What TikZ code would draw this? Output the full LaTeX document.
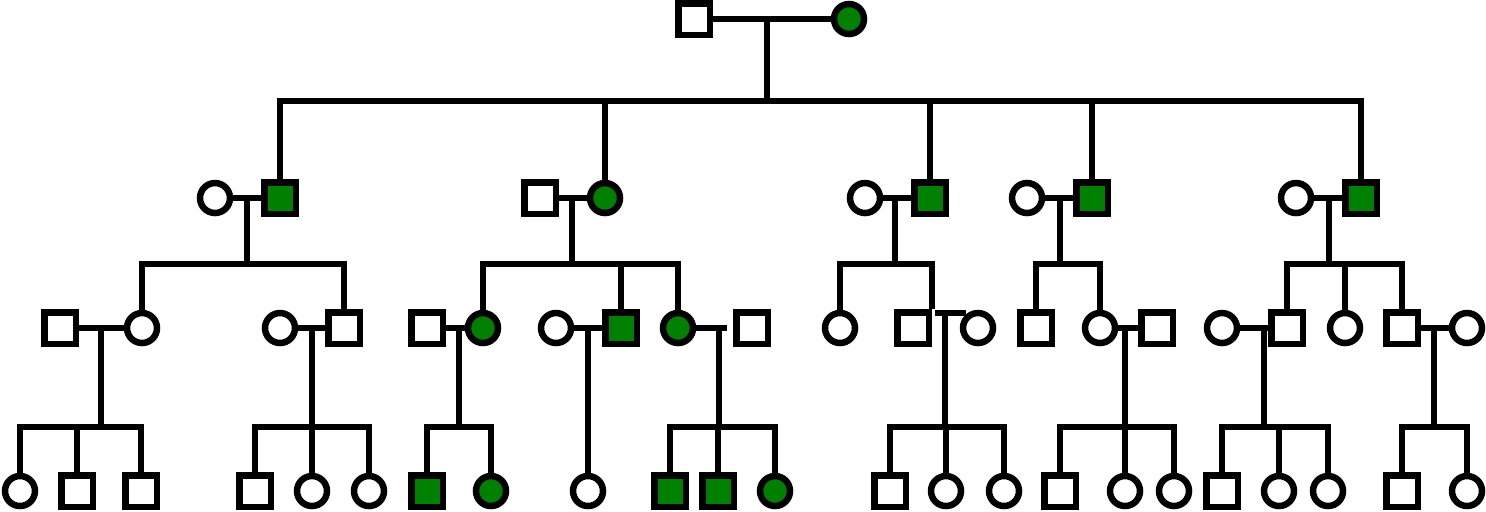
\documentclass[tikz,border=0pt]{standalone}
\definecolor{pgreen}{RGB}{0,128,0}
\begin{document}
\begin{tikzpicture}[x=0.5pt,y=-0.5pt, line width=3.25pt,
  sq/.style={draw, rectangle, minimum size=15.75pt, inner sep=0pt, fill=white},
  ci/.style={draw, circle, minimum size=15pt, inner sep=0pt, fill=white},
  aff/.style={fill=pgreen}]
\useasboundingbox (0,0) rectangle (1486,511);

% ---------- generation 1
\node[sq] (A) at (694,19) {};
\node[ci,aff] (B) at (849,19) {};
\draw (A) -- (B);
\coordinate (dA) at (767,19); \coordinate (sA) at (767,101);
\draw (dA) -- (sA);

% ---------- generation 2
\node[ci] (w1) at (215,198) {};  \node[sq,aff] (h1) at (280,198) {};
\node[sq] (w2) at (540,198) {};  \node[ci,aff] (h2) at (605,198) {};
\node[ci] (w3) at (865,198) {};  \node[sq,aff] (h3) at (930,198) {};
\node[ci] (w4) at (1027,198) {}; \node[sq,aff] (h4) at (1092,198) {};
\node[ci] (w5) at (1296,198) {}; \node[sq,aff] (h5) at (1361,198) {};
\draw (h1.north) |- (sA) -| (h5.north);
\foreach \n in {h2,h3,h4} \draw (\n.north) -- (\n.north |- sA);
\draw (w1) -- (h1); \draw (w2) -- (h2); \draw (w3) -- (h3);
\draw (w4) -- (h4); \draw (w5) -- (h5);
\coordinate (d1) at (247,198);  \coordinate (s1) at (247,264);
\coordinate (d2) at (572,198);  \coordinate (s2) at (572,264);
\coordinate (d3) at (895,198);  \coordinate (s3) at (895,264);
\coordinate (d4) at (1060,198); \coordinate (s4) at (1060,264);
\coordinate (d5) at (1329,198); \coordinate (s5) at (1329,264);
\foreach \i in {1,...,5} \draw (d\i) -- (s\i);

% ---------- generation 3
\node[sq] (a1) at (60,328) {};   \node[ci] (a2) at (142,328) {};
\node[ci] (a3) at (280,328) {};  \node[sq] (a4) at (344,328) {};
\draw (a2.north) |- (s1) -| (a4.north);
\draw (a1) -- (a2); \draw (a3) -- (a4);

\node[sq] (b1) at (427,328) {};  \node[ci,aff] (b2) at (483,328) {};
\node[ci] (b3) at (556,328) {};  \node[sq,aff] (b4) at (621,328) {};
\node[ci,aff] (b5) at (678,328) {}; \node[sq] (b6) at (752,328) {};
\draw (b2.north) |- (s2) -| (b5.north);
\draw (b4.north) -- (b4.north |- s2);
\draw (b1) -- (b2); \draw (b3) -- (b4);
\draw (b5) -- ([xshift=-3pt]b6.west);

\node[ci] (c1) at (840,328) {};  \node[sq] (c2) at (913,328) {};
\node[ci] (c3) at (978,328) {};
\draw (c1.north) |- (s3) -| (c2.north east);
\coordinate (t3) at (935,313);
\draw (t3) -- (t3 -| c3.130);

\node[sq] (e1) at (1036,328) {}; \node[ci] (e2) at (1100,328) {};
\node[sq] (e3) at (1157,328) {};
\draw (e1.north) |- (s4) -| (e2.north);
\draw (e2) -- (e3);

\node[ci] (f1) at (1222,328) {}; \node[sq] (f2) at (1287,328) {};
\node[ci] (f3) at (1345,328) {}; \node[sq] (f4) at (1402,328) {};
\node[ci] (f5) at (1467,328) {};
\draw (f2.north) |- (s5) -| (f4.north);
\draw (f3.north) -- (f3.north |- s5);
\draw (f1) -- (f2); \draw (f4) -- (f5);

% drops from generation-3 couples
\coordinate (da) at (101,328);  \coordinate (ta) at (101,427);
\coordinate (db) at (312,328);  \coordinate (tb) at (312,427);
\coordinate (dc) at (459,328);  \coordinate (tc) at (459,427);
\coordinate (dd) at (588,328);
\coordinate (de) at (719,328);  \coordinate (te) at (719,427);
\coordinate (df) at (945,313);  \coordinate (tf) at (945,427);
\coordinate (dg) at (1125,328); \coordinate (tg) at (1125,427);
\coordinate (dh) at (1264,328); \coordinate (th) at (1264,427);
\coordinate (di) at (1434,328); \coordinate (ti) at (1434,427);
\foreach \i in {a,b,c,e,f,g,h,i} \draw (d\i) -- (t\i);

% ---------- generation 4
\node[ci] (k1) at (20,491) {};  \node[sq] (k2) at (77,491) {};  \node[sq] (k3) at (141,491) {};
\draw (k1.north) |- (ta) -| (k3.north); \draw (k2.north) -- (k2.north |- ta);

\node[sq] (k4) at (255,491) {}; \node[ci] (k5) at (312,491) {}; \node[ci] (k6) at (369,491) {};
\draw (k4.north) |- (tb) -| (k6.north); \draw (k5.north) -- (k5.north |- tb);

\node[sq,aff] (k7) at (427,491) {}; \node[ci,aff] (k8) at (491,491) {};
\draw (k7.north) |- (tc) -| (k8.north);

\node[ci] (k9) at (588,491) {};
\draw (dd) -- (k9.north);

\node[sq,aff] (k10) at (670,491) {}; \node[sq,aff] (k11) at (718,491) {}; \node[ci,aff] (k12) at (775,491) {};
\draw (k10.north) |- (te) -| (k12.north); \draw (k11.north) -- (k11.north |- te);

\node[sq] (k13) at (890,491) {}; \node[ci] (k14) at (946,491) {}; \node[ci] (k15) at (1004,491) {};
\draw (k13.north) |- (tf) -| (k15.north); \draw (k14.north) -- (k14.north |- tf);

\node[sq] (k16) at (1060,491) {}; \node[ci] (k17) at (1125,491) {}; \node[ci] (k18) at (1174,491) {};
\draw (k16.north) |- (tg) -| (k18.north); \draw (k17.north) -- (k17.north |- tg);

\node[sq] (k19) at (1222,491) {}; \node[ci] (k20) at (1279,491) {}; \node[ci] (k21) at (1328,491) {};
\draw (k19.north) |- (th) -| (k21.north); \draw (k20.north) -- (k20.north |- th);

\node[sq] (k22) at (1402,491) {}; \node[ci] (k23) at (1467,491) {};
\draw (k22.north) |- (ti) -| (k23.north);
\end{tikzpicture}
\end{document}
